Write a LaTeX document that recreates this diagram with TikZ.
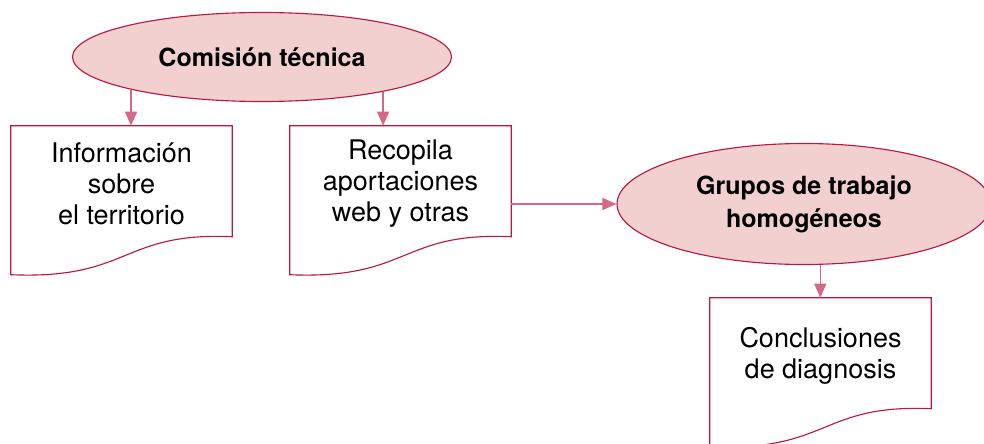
\documentclass[tikz,border=0pt]{standalone}
\usepackage{fontspec}
\setmainfont{TeX Gyre Heros}
\usetikzlibrary{shapes.geometric,arrows.meta}
\definecolor{boxred}{RGB}{185,25,65}
\definecolor{ellfill}{RGB}{241,208,207}
\definecolor{arrowpink}{RGB}{212,104,134}

\begin{document}
\begin{tikzpicture}[
  group/.style={ellipse,draw=boxred,fill=ellfill,line width=0.8pt,inner sep=0pt,
    align=center,font=\fontsize{17.8}{23.4}\selectfont\bfseries},
  docbox/.style={rectangle,minimum width=5.525cm,minimum height=2.9cm,inner sep=0pt,
    align=center,font=\fontsize{19.2}{22}\selectfont},
  docline/.style={draw=boxred,line width=0.8pt},
  flow/.style={draw=arrowpink,line width=0.9pt,-{Triangle[length=0.35cm,width=0.3cm]}}
]
  \useasboundingbox (0,0) rectangle (24.6,11.075);
  \node[group,minimum width=9.475cm,minimum height=2.225cm] (com) at (6.55,9.65) {Comisión técnica};
  \node[group,minimum width=9.35cm,minimum height=3.025cm] (grupos) at (20.1,5.975) {Grupos de trabajo\\homogéneos};
  \node[docbox] (info) at (3.0375,6.475) {Información\\sobre\\el territorio};
  \node[docbox] (recopila) at (10.0125,6.475) {Recopila\\aportaciones\\web y otras};
  \node[docbox] (concl) at (20.5125,2.175) {Conclusiones\\de diagnosis};
  % document outlines with wavy bottom
  \foreach \n in {info,recopila,concl}
    \draw[docline] (\n.north west) -- (\n.north east) -- ([yshift=-2.775cm]\n.north east)
      .. controls ([shift={(2.75,-2.65)}]\n.north west) and ([shift={(3,-3.85)}]\n.north west)
      .. ([yshift=-3.725cm]\n.north west) -- cycle;
  \draw[flow] (com.194.3) -- (com.194.3 |- info.north);
  \draw[flow] (com.344.2) -- (com.344.2 |- recopila.north);
  \draw[flow] (recopila.east |- grupos.west) -- (grupos.west);
  \draw[flow] (grupos.285.8) -- (grupos.285.8 |- concl.north);
\end{tikzpicture}
\end{document}
